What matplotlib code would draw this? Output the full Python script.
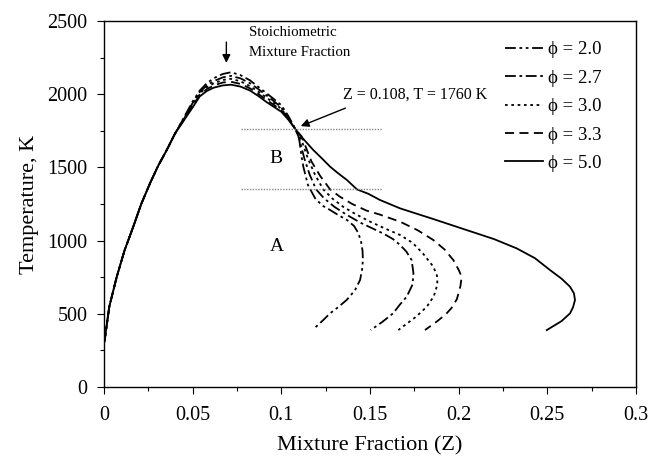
import matplotlib
matplotlib.use("Agg")
import matplotlib.pyplot as plt
from matplotlib.ticker import MultipleLocator

plt.rcParams['font.family'] = ['Liberation Serif', 'DejaVu Serif']

# ---- data ----
phi_labels = ["\u03d5 = 2.0", "\u03d5 = 2.7", "\u03d5 = 3.0", "\u03d5 = 3.3", "\u03d5 = 5.0"]

# common rising branch (Z, T)
rise_Z = [0.0, 0.0006, 0.003, 0.0072, 0.0115, 0.0165, 0.021, 0.026, 0.0305, 0.0354, 0.040]
rise_T = [300, 340, 550, 753, 930, 1095, 1250, 1393, 1510, 1619, 1730]

# peak region, per curve
peak_Z = [0.045, 0.050, 0.054, 0.058, 0.062, 0.067, 0.0716, 0.077, 0.0823, 0.087, 0.0918, 0.096, 0.100, 0.104, 0.108]
peak_T = [
    [1840, 1950, 2025, 2075, 2110, 2138, 2150, 2130, 2095, 2050, 2005, 1965, 1925, 1850, 1760],
    [1835, 1940, 2015, 2060, 2090, 2115, 2125, 2108, 2075, 2035, 1990, 1950, 1910, 1840, 1760],
    [1830, 1930, 2005, 2048, 2075, 2097, 2105, 2088, 2055, 2018, 1975, 1938, 1900, 1835, 1760],
    [1825, 1920, 1995, 2035, 2060, 2080, 2085, 2070, 2040, 2002, 1960, 1925, 1890, 1830, 1760],
    [1820, 1910, 1985, 2022, 2045, 2060, 2065, 2052, 2025, 1988, 1945, 1912, 1880, 1825, 1760],
]

# falling / turning branch, per curve
fall_Z = [
    [0.1100, 0.1114, 0.1125, 0.1150, 0.1190, 0.1230, 0.1275, 0.1320, 0.1370, 0.1410, 0.1435, 0.1450, 0.1458, 0.1460, 0.1455, 0.1444, 0.1415, 0.1368, 0.1320, 0.1275, 0.1230, 0.1180],
    [0.1100, 0.1130, 0.1160, 0.1196, 0.1240, 0.1300, 0.1370, 0.1450, 0.1520, 0.1580, 0.1630, 0.1670, 0.1705, 0.1735, 0.1745, 0.1740, 0.1707, 0.1670, 0.1630, 0.1570, 0.1504],
    [0.1110, 0.1150, 0.1190, 0.1236, 0.1290, 0.1350, 0.1420, 0.1500, 0.1580, 0.1670, 0.1740, 0.1800, 0.1857, 0.1878, 0.1880, 0.1860, 0.1820, 0.1760, 0.1710, 0.1660],
    [0.1115, 0.1170, 0.1220, 0.1275, 0.1330, 0.1400, 0.1480, 0.1550, 0.1670, 0.1770, 0.1857, 0.1920, 0.1970, 0.2000, 0.2017, 0.2010, 0.1990, 0.1960, 0.1930, 0.1880, 0.1810],
    [0.1120, 0.1180, 0.1230, 0.1275, 0.1320, 0.1370, 0.1426, 0.1490, 0.1557, 0.1670, 0.1850, 0.2045, 0.2200, 0.2327, 0.2430, 0.2515, 0.2580, 0.2628, 0.2650, 0.2656, 0.2645, 0.2628, 0.2580, 0.2497],
]
fall_T = [
    [1700, 1573, 1500, 1380, 1290, 1240, 1209, 1175, 1141, 1100, 1050, 990, 930, 867, 800, 731, 660, 594, 545, 503, 450, 394],
    [1700, 1560, 1450, 1350, 1290, 1230, 1175, 1120, 1080, 1045, 1010, 970, 925, 867, 777, 700, 617, 565, 503, 445, 389],
    [1700, 1560, 1450, 1350, 1285, 1230, 1180, 1130, 1085, 1038, 985, 910, 822, 760, 700, 620, 548, 480, 435, 389],
    [1710, 1540, 1440, 1350, 1300, 1250, 1205, 1180, 1129, 1070, 1004, 940, 867, 800, 753, 690, 600, 540, 500, 450, 389],
    [1700, 1619, 1560, 1505, 1460, 1414, 1350, 1320, 1277, 1220, 1150, 1072, 1010, 947, 880, 799, 740, 685, 640, 594, 545, 503, 450, 389],
]

styles = [
    (0, (6, 2, 1.5, 2, 1.5, 2)),
    (0, (6, 2, 1.5, 2)),
    (0, (1.5, 2)),
    (0, (5, 3)),
    '-',
]

hline_T = [1760, 1350]
hline_Z = [0.077, 0.157]

# ---- figure ----
fig = plt.figure(figsize=(6.5, 4.63), dpi=100)
ax = fig.add_axes([104/650, 1-387/463, (636-104)/650, (387-21)/463])

for i in range(5):
    Z = rise_Z + peak_Z + fall_Z[i]
    T = rise_T + peak_T[i] + fall_T[i]
    ax.plot(Z, T, color='black', lw=1.3, linestyle=styles[i], label=phi_labels[i])

for t in hline_T:
    ax.plot(hline_Z, [t, t], color='#888888', lw=1.0, linestyle=(0, (1, 1)))

ax.set_xlim(0, 0.3)
ax.set_ylim(0, 2500)
ax.xaxis.set_minor_locator(MultipleLocator(0.025))
ax.yaxis.set_major_locator(MultipleLocator(500))
ax.yaxis.set_minor_locator(MultipleLocator(250))
ax.set_xticks([0, 0.05, 0.1, 0.15, 0.2, 0.25, 0.3])
ax.set_xticklabels(['0', '0.05', '0.1', '0.15', '0.2', '0.25', '0.3'])
ax.tick_params(which='major', direction='out', length=5, width=0.8, labelsize=14.5, pad=9)
ax.tick_params(axis='y', which='major', pad=7)
ax.tick_params(which='minor', direction='out', length=3, width=0.8)
for s in ax.spines.values():
    s.set_linewidth(1.0)

ax.set_xlabel('Mixture Fraction (Z)', fontsize=16, labelpad=8)
ax.set_ylabel('Temperature, K', fontsize=16, labelpad=6)

ax.annotate('', xy=(0.069, 2195), xytext=(0.069, 2375),
            arrowprops=dict(arrowstyle='-|>', color='black', lw=1.0, mutation_scale=12))
ax.text(0.082, 2465, 'Stoichiometric\nMixture Fraction', fontsize=10.7, va='top', ha='left', linespacing=1.7)

ax.annotate('', xy=(0.1095, 1775), xytext=(0.1376, 1912),
            arrowprops=dict(arrowstyle='-|>', color='black', lw=1.0, mutation_scale=12))
ax.text(0.1348, 2000, 'Z = 0.108, T = 1760 K', fontsize=11.5, va='center', ha='left')

ax.text(0.097, 1560, 'B', fontsize=14, ha='center', va='center')
ax.text(0.0975, 960, 'A', fontsize=14, ha='center', va='center')

leg = ax.legend(loc='upper right', bbox_to_anchor=(0.95, 0.965), frameon=False, fontsize=13.5,
                handlelength=2.0, handletextpad=0.3, labelspacing=0.6, borderaxespad=0)

fig.savefig('out.png', dpi=100)
